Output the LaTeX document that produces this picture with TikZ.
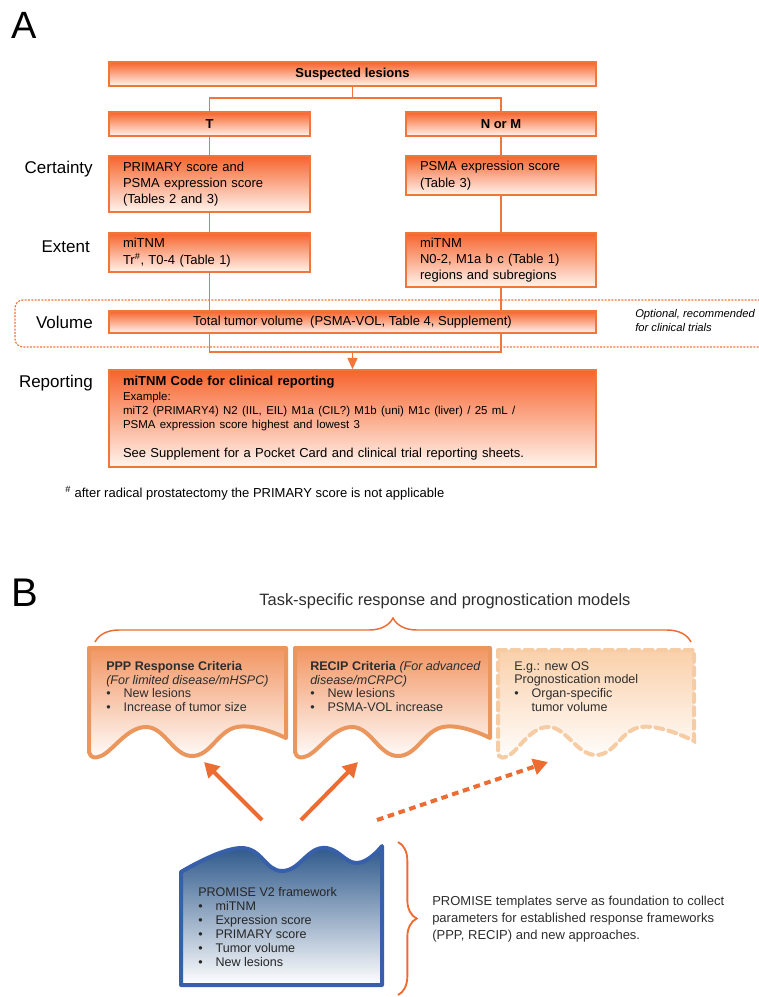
\documentclass[tikz,border=0pt]{standalone}
\usepackage{fontspec}
\setmainfont{Liberation Sans}
\usetikzlibrary{arrows.meta, positioning, backgrounds, decorations.pathreplacing}
\definecolor{boxtop}{RGB}{247,100,45}
\definecolor{boxbot}{RGB}{255,244,238}
\definecolor{boxline}{RGB}{240,118,58}
\definecolor{critline}{RGB}{234,150,92}
\definecolor{crittop}{RGB}{242,150,100}
\definecolor{modline}{RGB}{246,204,164}
\definecolor{modtop}{RGB}{250,208,170}
\definecolor{arrowor}{RGB}{236,108,50}
\definecolor{promtop}{RGB}{45,88,138}
\definecolor{promline}{RGB}{55,95,170}
\definecolor{txtgray}{RGB}{45,45,45}
\newcommand\critbullet{\makebox[13pt][l]{\textbullet}}

\begin{document}
\begin{tikzpicture}[x=0.75pt, y=-0.75pt,
    abox/.style={draw=boxline, line width=1.1pt, top color=boxtop, bottom color=boxbot,
                 inner xsep=10.5pt, inner ysep=0pt, font=\fontsize{9.75}{12.2}\selectfont},
    headbox/.style={abox, font=\fontsize{9.75}{12.2}\selectfont\bfseries},
    txtbox/.style={abox, align=left},
    rowlabel/.style={anchor=east, inner sep=0pt, font=\fontsize{12.75}{15}\selectfont},
    conn/.style={draw=boxline, line width=1.1pt},
    btext/.style={anchor=north west, inner sep=0pt, align=left, text=txtgray,
                  font=\fontsize{9.4}{10.3}\selectfont},
    critshape/.style={draw=critline, line width=3pt, top color=crittop, bottom color=white, line join=round},
    bigarrow/.style={draw=arrowor, line width=3pt, -{Triangle[length=11pt,width=12pt]}},
    ]
  \useasboundingbox (0,0) rectangle (758,997);

  % ---------------- A ----------------
  \node[font=\fontsize{28.5}{30}\selectfont] (labA) at (24.5,25.5) {A};

  \node[headbox, minimum width=365.25pt, minimum height=18pt] (susp) at (352.5,74) {Suspected lesions};
  \node[headbox, minimum width=150.75pt, minimum height=18pt] (tcol) at (209.5,124) {T};
  \node[headbox, minimum width=142.5pt, minimum height=18pt] (nmcol) at (501,124) {N or M};

  \node[txtbox, minimum width=150.75pt, text width=129.75pt, minimum height=42pt] (certt) at (209.5,184)
    {PRIMARY score and\\PSMA expression score\\(Tables 2 and 3)};
  \node[txtbox, minimum width=142.5pt, text width=121.5pt, minimum height=29.25pt] (certnm) at (501,175.5)
    {PSMA expression score\\(Table 3)};
  \node[txtbox, minimum width=150.75pt, text width=129.75pt, minimum height=29.25pt] (extt) at (209.5,252.5)
    {miTNM\\Tr\textsuperscript{\#}, T0-4 (Table 1)};
  \node[txtbox, minimum width=142.5pt, text width=121.5pt, minimum height=40.5pt] (extnm) at (501,260)
    {miTNM\\N0-2, M1a b c (Table 1)\\regions and subregions};
  \node[abox, minimum width=365.25pt, minimum height=16.5pt] (vol) at (352.5,322)
    {Total tumor volume\ \ (PSMA-VOL, Table 4, Supplement)};
  \node[txtbox, minimum width=365.25pt, text width=344.25pt, minimum height=72.75pt] (report) at (352.5,418.5)
    {{\bfseries miTNM Code for clinical reporting\par}
     \vspace{0.4pt}
     {\fontsize{8.6}{10.5}\selectfont Example:\\
      miT2 (PRIMARY4) N2 (IIL, EIL) M1a (CIL?) M1b (uni) M1c (liver) / 25 mL /\\
      PSMA expression score highest and lowest 3\par}
     \vspace{10pt}
     See Supplement for a Pocket Card and clinical trial reporting sheets.\par};

  \node[rowlabel] (lcert) at (93,169) {Certainty};
  \node[rowlabel] (lext) at (90,247) {Extent};
  \node[rowlabel] (lvol) at (93,322) {Volume};
  \node[rowlabel] (lrep) at (93,383) {Reporting};

  \begin{scope}[on background layer]
    \coordinate (split) at (352.5,98);
    \coordinate (merge) at (352.5,352);
    \draw[conn] (susp.south) -- (split);
    \draw[conn] (tcol.north) |- (split) -| (nmcol.north);
    \draw[conn] (tcol) -- (certt);
    \draw[conn] (certt) -- (extt);
    \draw[conn] (nmcol) -- (certnm);
    \draw[conn] (certnm) -- (extnm);
    \draw[conn] (extt.south) -- (extt.south |- merge) -- (extnm.south |- merge) -- (extnm.south);
  \end{scope}
  \draw[conn, -{Triangle[length=8.5pt,width=7.5pt]}] (merge) -- (report.north);

  % optional volume band
  \draw[draw=boxline, line width=0.9pt, dash pattern=on 1.5pt off 1pt, rounded corners=6pt]
    (770,300) -- (15,300) -- (15,347) -- (770,347);
  \node[anchor=west, inner sep=0pt, align=left, font=\fontsize{8.4}{10.5}\selectfont\itshape] (optnote) at (635,320)
    {Optional, recommended\\for clinical trials};

  \node[anchor=west, inner sep=0pt, font=\fontsize{9.75}{12}\selectfont] (footnote) at (65,493)
    {\textsuperscript{\#} after radical prostatectomy the PRIMARY score is not applicable};

  % ---------------- B ----------------
  \node[font=\fontsize{30}{32}\selectfont] (labB) at (24.5,592.5) {B};
  \node[font=\fontsize{12.3}{14}\selectfont, text=txtgray] (tasktitle) at (445,601)
    {Task-specific response and prognostication models};
  \draw[draw=arrowor, line width=1.1pt, decorate, decoration={brace, amplitude=18pt}]
    (95,642) -- (691,642);

  \path[critshape]
    (89,648) -- (286,648) -- plot[smooth, tension=0.75] coordinates
      {(286,738) (237,727) (192,756) (146,727) (101,756) (89,751)} -- cycle;
  \path[critshape]
    (295,648) -- (490,648) -- plot[smooth, tension=0.75] coordinates
      {(490,738) (443,727) (398,756) (352,727) (307,756) (295,751)} -- cycle;
  \path[draw=modline, line width=3pt, dash pattern=on 6pt off 4pt, line cap=round,
        top color=modtop, bottom color=white]
    (498,650) -- (694,650) -- plot[smooth, tension=0.75] coordinates
      {(694,741) (641,727) (596,755) (548,727) (508,756) (498,752)} -- cycle;

  \node[btext] (ppp) at (106,661)
    {\textbf{PPP Response Criteria}\\\textit{(For limited disease/mHSPC)}\\
     \critbullet New lesions\\\critbullet Increase of tumor size};
  \node[btext] (recip) at (310,661)
    {\textbf{RECIP Criteria} \textit{(For advanced}\\\textit{disease/mCRPC)}\\
     \critbullet New lesions\\\critbullet PSMA-VOL increase};
  \node[btext] (osmodel) at (514,661)
    {E.g.: new OS\\Prognostication model\\
     \critbullet Organ-specific\\\hspace*{13pt}tumor volume};

  \path[draw=promline, line width=3pt, top color=promtop, bottom color=white, line join=round]
    (181,985) -- (382,985) -- plot[smooth, tension=0.75] coordinates
      {(382,846) (357,863) (322,848) (282,871) (241,848) (181,872)} -- cycle;
  \node[btext, font=\fontsize{9.4}{10.5}\selectfont, text=black!85] (promise) at (198,887.5)
    {PROMISE V2 framework\\\critbullet miTNM\\\critbullet Expression score\\
     \critbullet PRIMARY score\\\critbullet Tumor volume\\\critbullet New lesions};

  \draw[draw=arrowor, line width=1.4pt, decorate, decoration={brace, amplitude=14pt}]
    (398,842) -- (398,995);
  \node[btext, font=\fontsize{9.75}{12.75}\selectfont] (templates) at (432,896)
    {PROMISE templates serve as foundation to collect\\
     parameters for established response frameworks\\
     (PPP, RECIP) and new approaches.};

  \coordinate (pppfoot) at (262,820);
  \coordinate (ppptip) at (204,762);
  \coordinate (recipfoot) at (301,820);
  \coordinate (reciptip) at (358,762);
  \coordinate (modfoot) at (377,820);
  \coordinate (modtip) at (548,762);
  \draw[bigarrow] (pppfoot) -- (ppptip);
  \draw[bigarrow] (recipfoot) -- (reciptip);
  \draw[bigarrow, dash pattern=on 5pt off 3.5pt] (modfoot) -- (modtip);
\end{tikzpicture}
\end{document}
